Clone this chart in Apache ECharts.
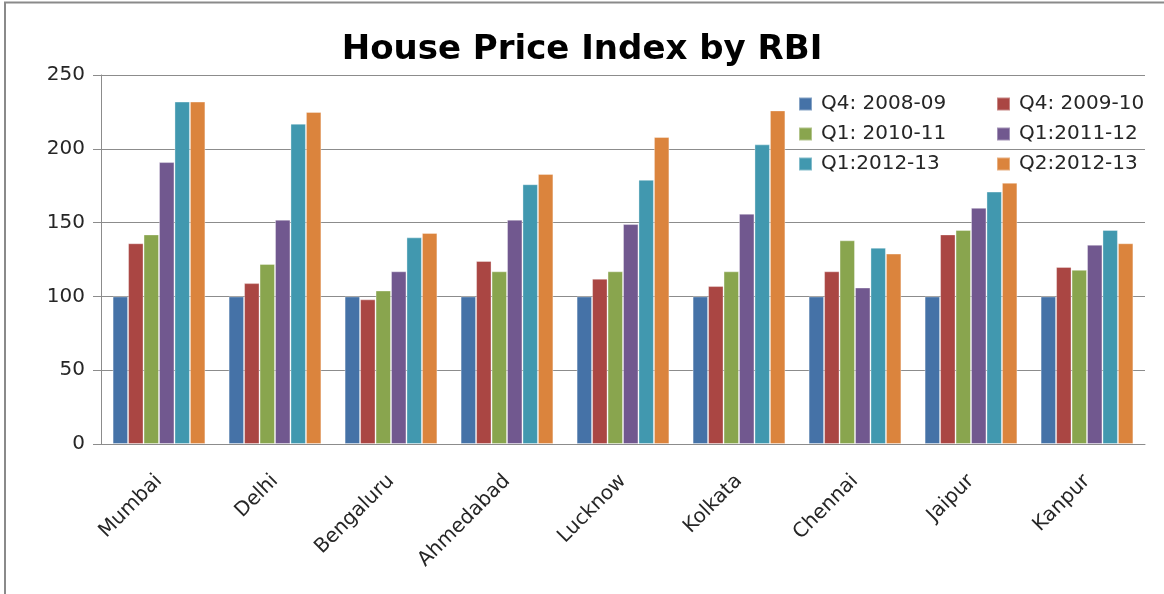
<!DOCTYPE html>
<html>
<head>
<meta charset="utf-8">
<title>House Price Index by RBI</title>
<script src="https://cdn.jsdelivr.net/npm/echarts@6/dist/echarts.min.js"></script>
<style>
  html, body { margin: 0; padding: 0; background: #fff; }
  #chart { width: 1164px; height: 594px; }
</style>
</head>
<body>
<div id="chart"></div>
<script>
// cities on the x axis
const cities = ["Mumbai", "Delhi", "Bengaluru", "Ahmedabad", "Lucknow", "Kolkata", "Chennai", "Jaipur", "Kanpur"];

// one array per quarter
const q4_2008_09 = [100, 100, 100, 100, 100, 100, 100, 100, 100];
const q4_2009_10 = [136, 109, 98, 124, 112, 107, 117, 142, 120];
const q1_2010_11 = [142, 122, 104, 117, 117, 117, 138, 145, 118];
const q1_2011_12 = [191, 152, 117, 152, 149, 156, 106, 160, 135];
const q1_2012_13 = [232, 217, 140, 176, 179, 203, 133, 171, 145];
const q2_2012_13 = [232, 225, 143, 183, 208, 226, 129, 177, 136];

const seriesNames = ["Q4: 2008-09", "Q4: 2009-10", "Q1: 2010-11", "Q1:2011-12", "Q1:2012-13", "Q2:2012-13"];
const seriesData = [q4_2008_09, q4_2009_10, q1_2010_11, q1_2011_12, q1_2012_13, q2_2012_13];
const colors = ["#4572A7", "#AA4643", "#89A54E", "#71588F", "#4198AF", "#DB843D"];

const yTicks = [0, 50, 100, 150, 200, 250];

const font = "DejaVu Sans";
const textColor = "#262626";
const lineColor = "#8c8c8c";

const chart = echarts.init(document.getElementById("chart"), null, { renderer: "canvas" });

const option = {
  animation: false,
  backgroundColor: "#fff",
  color: colors,
  title: {
    text: "House Price Index by RBI",
    left: "center",
    top: 28,
    textStyle: { fontFamily: font, fontWeight: "bold", fontSize: 34, color: "#000" }
  },
  legend: {
    left: 793,
    top: 89,
    width: 420,
    itemWidth: 13,
    itemHeight: 13,
    itemGap: 10,
    icon: "rect",
    data: seriesNames,
    textStyle: {
      fontFamily: font,
      fontSize: 20,
      color: textColor,
      width: 165,
      lineHeight: 20,
      padding: [0, 0, 0, 4]
    }
  },
  grid: { left: 101, right: 19, top: 75, bottom: 150 },
  xAxis: {
    type: "category",
    data: cities,
    axisLine: { lineStyle: { color: lineColor } },
    axisTick: { length: 8, lineStyle: { color: lineColor } },
    axisLabel: {
      rotate: 45,
      margin: 34,
      fontFamily: font,
      fontSize: 20,
      color: textColor
    }
  },
  yAxis: {
    type: "value",
    min: yTicks[0],
    max: yTicks[yTicks.length - 1],
    interval: 50,
    axisLine: { show: true, lineStyle: { color: lineColor } },
    axisTick: { show: true, length: 8, lineStyle: { color: lineColor } },
    splitLine: { lineStyle: { color: lineColor } },
    axisLabel: {
      margin: 16,
      fontFamily: font,
      fontSize: 20,
      color: textColor
    }
  },
  graphic: [
    {
      type: "polyline",
      shape: { points: [[5, 594], [5, 2.5], [1164, 2.5]] },
      style: { stroke: "#8a8a8a", lineWidth: 2, fill: null }
    }
  ],
  series: seriesNames.map((name, i) => ({
    name: name,
    type: "bar",
    data: seriesData[i],
    barGap: "0%",
    barCategoryGap: "20%",
    itemStyle: { borderColor: "rgba(255,255,255,0.35)", borderWidth: 1 }
  }))
};

chart.setOption(option);
</script>
</body>
</html>
